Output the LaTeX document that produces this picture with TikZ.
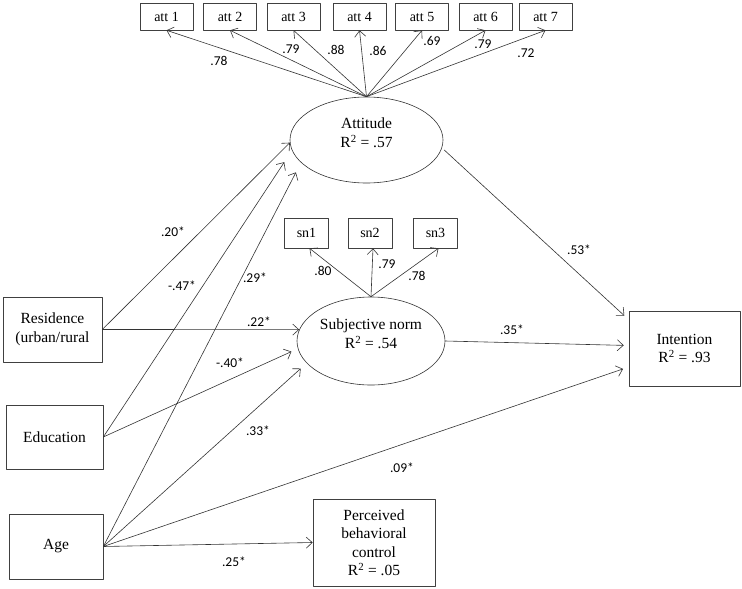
\documentclass[tikz,border=0pt]{standalone}
\usepackage{fontspec}
\setmainfont{Liberation Serif}
\newfontfamily\lblfont{Carlito}
\usetikzlibrary{arrows.meta,shapes.geometric,calc}

\tikzset{
  conn/.style={-{Straight Barb[length=6pt,width=11pt]}, draw=black!80, line width=0.6pt},
  obsbox/.style={draw=black!75, line width=0.6pt, rectangle, align=center, inner sep=0pt,
                 font=\fontsize{15.5}{18.5}\selectfont},
  indbox/.style={obsbox, font=\fontsize{14}{16}\selectfont},
  latent/.style={draw=black!80, line width=0.6pt, ellipse, align=center, inner sep=0pt,
                 font=\fontsize{15.5}{18.5}\selectfont},
  coef/.style={font=\lblfont\fontsize{13.5}{15}\selectfont, inner sep=0pt}
}
% two-line text set a little above the centre of an ellipse
\newcommand{\uptext}[2]{\raisebox{2pt}[0pt][0pt]{\begin{tabular}{@{}c@{}}#1\\#2\end{tabular}}}

\begin{document}
\begin{tikzpicture}[x=1pt, y=-1pt, line cap=round, line join=round]
  \useasboundingbox (0,0) rectangle (742,589);
  % latent factors
  \node[latent, minimum width=153pt, minimum height=86pt] (att) at (366.5,140)
    {\uptext{Attitude}{R\textsuperscript{2} = .57}};
  \node[latent, minimum width=148pt, minimum height=88pt] (sn) at (371,341)
    {\uptext{Subjective norm}{R\textsuperscript{2} = .54}};
  % indicators
  \foreach \i/\x in {1/166.5, 2/230, 3/293.5, 4/359.5, 5/422, 6/485.5, 7/545.5} {%
    \node[indbox, minimum width=53pt, minimum height=27pt] (att\i) at (\x,16.5) {att \i};
    \draw[conn] (att.north) -- (att\i.south);
  }
  \foreach \i/\x in {1/306.5, 2/370, 3/435.5} {%
    \node[indbox, minimum width=44pt, minimum height=30pt] (sn\i) at (\x,233) {sn\i};
    \draw[conn] (sn.north) -- ([xshift=3pt]sn\i.south);
  }
  % observed variables
  \node[obsbox, minimum width=99pt, minimum height=65pt] (res) at (52.5,329.5) {Residence\\(urban/rural};
  \node[obsbox, minimum width=97pt, minimum height=64pt] (edu) at (54.5,437) {Education};
  \node[obsbox, minimum width=94pt, minimum height=65pt] (age) at (56,546.5) {Age};
  \node[obsbox, minimum width=122pt, minimum height=87pt] (pbc) at (374,542.5)
    {Perceived\\behavioral\\control\\R\textsuperscript{2} = .05};
  \node[obsbox, minimum width=111pt, minimum height=75pt] (int) at (684.5,348.5)
    {Intention\\R\textsuperscript{2} = .93};
  % paths
  \draw[conn] (res.east) -- (att.182);
  \draw[conn, shorten >=14pt] (edu.east) -- (att.188.7);
  \draw[conn, shorten >=11pt] (age.east) -- (att.199.8);
  \draw[conn] (res.east) -- (sn.171);
  \draw[conn, shorten >=7pt] (edu.east) -- (sn.186.4);
  \draw[conn, shorten >=8pt] (age.east) -- (sn.199);
  \draw[conn] (age.east) -- (pbc.west);
  \draw[conn, shorten <=3pt, shorten >=6pt] (att.-6) -- ([yshift=-9pt]int.north west);
  \draw[conn, shorten >=5pt] (sn.east) -- ([yshift=3pt]int.west);
  \draw[conn, shorten >=6pt] (age.east) -- ([yshift=-18.5pt]int.west);
  % coefficients
  \foreach \n/\x/\y/\t in {a1/219/61/.78, a2/291/49/.79, a3/336/50/.88, a4/378/51/.86,
                           a5/432/41/.69, a6/483/44/.79, a7/526/53/.72,
                           s1/323/271/.80, s2/387/264/.79, s3/417/276/.78,
                           r1/173/232/.20*, e1/182/286/-.47*, g1/255/278/.29*,
                           r2/259/322/.22*, e2/230/363/-.40*, g2/258/431/.33*,
                           g3/402/468/.09*, g4/234/562/.25*, t1/579/250/.53*,
                           t2/512/330/.35*} {%
    \node[coef] (c\n) at (\x,\y) {\t};
  }
\end{tikzpicture}
\end{document}
